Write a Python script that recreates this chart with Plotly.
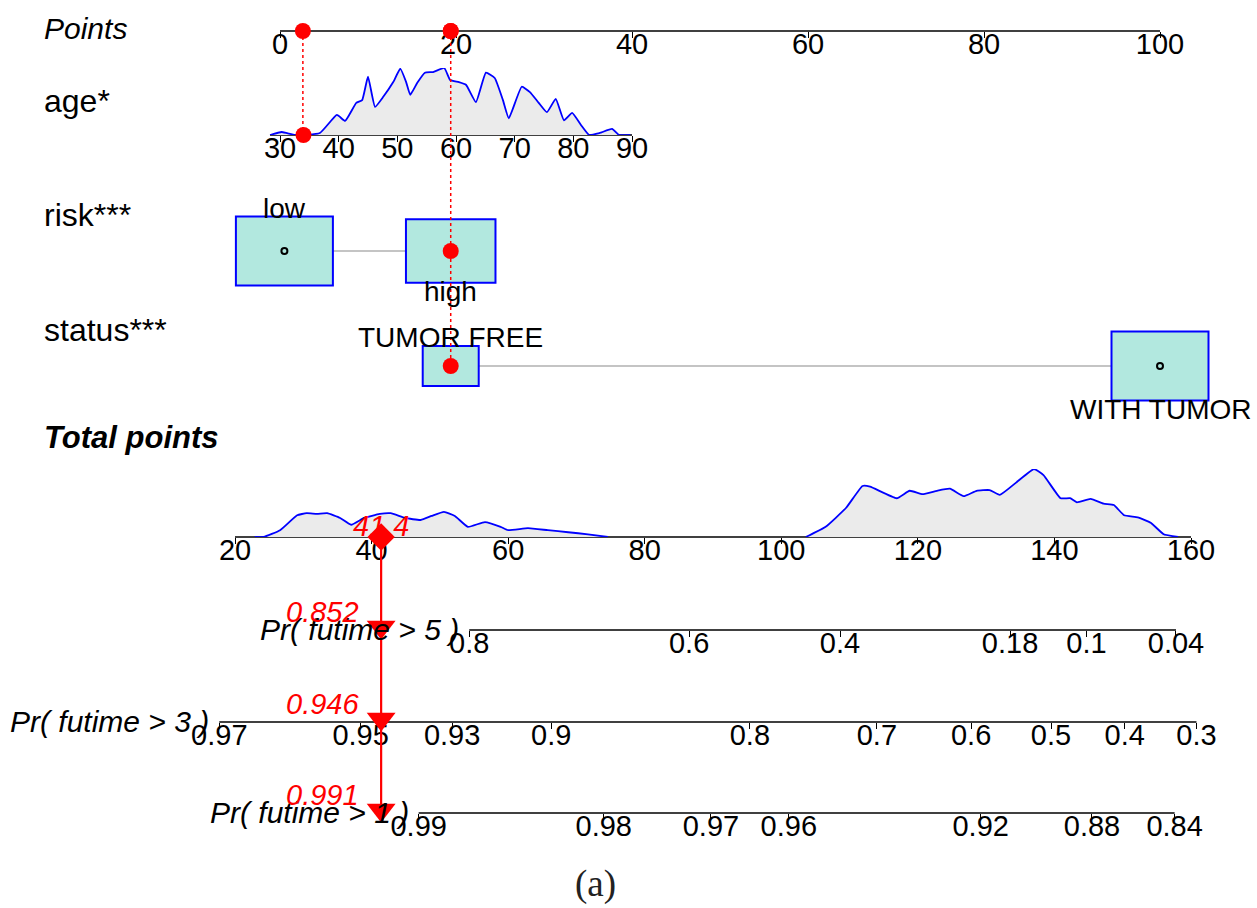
import plotly.graph_objects as go

W, H = 1257, 908
FONT = "Liberation Sans, Arial, Helvetica, sans-serif"

# ---------------- data ----------------
points_ticks = [0, 20, 40, 60, 80, 100]
age_ticks = [30, 40, 50, 60, 70, 80, 90]
total_ticks = [20, 40, 60, 80, 100, 120, 140, 160]

# kernel density of age (relative height)
age_grid = [28.3, 30.3, 32.6, 36.8, 39.7, 41.1, 43.0, 44.0, 45.0, 46.2, 47.6, 49.3,
            50.5, 51.5, 52.2, 53.4, 54.7, 56.1, 58.0, 59.0, 60.5, 61.7, 63.4, 65.1,
            66.6, 68.0, 69.0, 71.2, 72.6, 74.1, 75.5, 77.0, 78.4, 79.8, 81.3, 82.7,
            84.5, 86.6, 87.8, 89.7]
age_density = [0, 0.045, 0, 0.03, 0.30, 0.21, 0.48, 0.52, 0.87, 0.42, 0.57, 0.79,
               0.99, 0.79, 0.60, 0.78, 0.93, 0.94, 1.0, 0.82, 0.79, 0.75, 0.49, 0.93,
               0.85, 0.52, 0.25, 0.72, 0.64, 0.48, 0.34, 0.54, 0.22, 0.33, 0.15, 0,
               0.03, 0.09, 0, 0]

# kernel density of total points (relative height)
total_grid = [22.9, 24.2, 26.6, 29.1, 30.5, 32.0, 33.5, 35.4, 37.0, 38.9, 41.2, 42.8,
              44.9, 47.2, 48.8, 50.6, 52.2, 54.1, 56.6, 58.9, 60.0, 62.9, 65.8, 68.8,
              71.7, 74.6,
              103.6, 106.5, 109.5, 111.9, 113.0, 116.9, 118.8, 120.7, 122.8, 124.7,
              126.7, 128.6, 130.5, 132.0, 134.5, 137.0, 138.4, 140.9, 142.3, 143.3,
              145.3, 147.2, 148.7, 150.2, 152.2, 154.1, 156.0, 158.1]
total_density = [0, 0, 0.10, 0.32, 0.35, 0.34, 0.35, 0.28, 0.18, 0.28, 0.34, 0.35,
                 0.28, 0.25, 0.31, 0.37, 0.31, 0.15, 0.22, 0.15, 0.10, 0.13, 0.10, 0.07,
                 0.04, 0,
                 0, 0.15, 0.43, 0.75, 0.74, 0.57, 0.68, 0.63, 0.68, 0.71,
                 0.60, 0.68, 0.69, 0.62, 0.81, 1.0, 0.91, 0.57, 0.57, 0.51,
                 0.56, 0.49, 0.47, 0.32, 0.29, 0.21, 0.04, 0]

risk_levels = ["low", "high"]
risk_points = [0.5, 19.4]
risk_freq = [0.54, 0.46]

status_levels = ["TUMOR FREE", "WITH TUMOR"]
status_points = [19.4, 100]
status_freq = [0.25, 0.75]

# survival probability scales, positioned on the total-points scale
surv5_labels = ["0.8", "0.6", "0.4", "0.18", "0.1", "0.04"]
surv5_at = [54.3, 86.5, 108.6, 133.5, 144.7, 157.8]
surv3_labels = ["0.97", "0.95", "0.93", "0.9", "0.8", "0.7", "0.6", "0.5", "0.4", "0.3"]
surv3_at = [17.7, 38.4, 51.8, 66.3, 95.4, 114.0, 127.8, 139.5, 150.3, 160.8]
surv1_labels = ["0.99", "0.98", "0.97", "0.96", "0.92", "0.88", "0.84"]
surv1_at = [46.9, 74.0, 89.7, 101.1, 129.2, 145.5, 157.6]

# the patient being scored
patient_age = 34
patient_age_points = 2.6
patient_risk = "high"
patient_status = "TUMOR FREE"
patient_total = 41.4
patient_surv = [0.852, 0.946, 0.991]   # Pr(futime > 5), > 3, > 1

# ---------------- layout constants ----------------
ROW = dict(points=31, age=135, risk=251, status=366, total=537,
           s5=630, s3=722, s1=813)
LABEL_X = 42
TICK_SIZE = 29
LABEL_SIZE = 32
CAT_SIZE = 28
BOX_W, BOX_H = 97, 69
BOX_FILL = "#b2e8df"
GREY_FILL = "#ebebeb"


def span(v0, p0, v1, p1, size=W):
    """Axis range so that value v0 sits at pixel p0 and v1 at pixel p1."""
    k = (p1 - p0) / (v1 - v0)
    return [v0 - p0 / k, v0 + (size - p0) / k]


def paper_y(row):
    return 1 - row / H


points_rng = span(0, 280, 100, 1160)
age_rng = span(30, 280, 90, 632)
total_rng = span(20, 235, 160, 1191)


def scale_axis(rng, row, vals, text):
    return dict(domain=[0, 1], range=rng, anchor="free", position=paper_y(row),
                showline=False, showgrid=False, zeroline=False,
                ticks="outside", ticklen=6, tickwidth=1, tickcolor="black",
                tickmode="array", tickvals=vals, ticktext=text,
                ticklabelstandoff=-19,
                tickfont=dict(family=FONT, size=TICK_SIZE, color="black"),
                fixedrange=True)


def hidden_x(rng):
    return dict(domain=[0, 1], range=rng, visible=False, fixedrange=True,
                anchor="free", position=0)


fig = go.Figure()


def line(xs, ys, xaxis, yaxis="y", color="black", width=1.6, dash="solid"):
    fig.add_trace(go.Scatter(x=xs, y=ys, xaxis=xaxis, yaxis=yaxis,
                             mode="lines", line=dict(color=color, width=width, dash=dash),
                             hoverinfo="skip", showlegend=False))


def dots(xs, ys, xaxis, yaxis, **marker):
    fig.add_trace(go.Scatter(x=xs, y=ys, xaxis=xaxis, yaxis=yaxis, mode="markers",
                             marker=marker, cliponaxis=False,
                             hoverinfo="skip", showlegend=False))


# density curves
fig.add_trace(go.Scatter(x=age_grid, y=age_density, xaxis="x2", yaxis="y2",
                         mode="lines", fill="tozeroy", fillcolor=GREY_FILL,
                         line=dict(color="blue", width=1.8, shape="spline", smoothing=0.4),
                         hoverinfo="skip", showlegend=False))

split = max(range(1, len(total_grid)), key=lambda i: total_grid[i] - total_grid[i - 1])
for seg in (slice(0, split), slice(split, None)):
    fig.add_trace(go.Scatter(x=total_grid[seg], y=total_density[seg], xaxis="x3", yaxis="y3",
                             mode="lines", fill="tozeroy", fillcolor=GREY_FILL,
                             line=dict(color="blue", width=1.8, shape="spline", smoothing=0.4),
                             hoverinfo="skip", showlegend=False))

# scale lines
line([points_ticks[0], points_ticks[-1]], [ROW["points"]] * 2, "x")
line([age_grid[0], age_ticks[-1]], [ROW["age"]] * 2, "x2")
line([total_ticks[0], total_ticks[-1]], [ROW["total"]] * 2, "x3")
line([surv5_at[0], surv5_at[-1]], [ROW["s5"]] * 2, "x4")
line([surv3_at[0], surv3_at[-1]], [ROW["s3"]] * 2, "x5")
line([surv1_at[0], surv1_at[-1]], [ROW["s1"]] * 2, "x6")

# categorical variables: connector + frequency-scaled boxes
shapes = []
for levels, pts, freq, row in ((risk_levels, risk_points, risk_freq, ROW["risk"]),
                               (status_levels, status_points, status_freq, ROW["status"])):
    shapes.append(dict(type="line", xref="x", yref="y", x0=min(pts), x1=max(pts),
                       y0=row, y1=row, line=dict(color="#c4c4c4", width=2), layer="below"))
    fmax = max(freq)
    for p, f in zip(pts, freq):
        s = (f / fmax) ** 0.5
        w, h = BOX_W * s, BOX_H * s
        shapes.append(dict(type="rect", xref="x", yref="y",
                           xsizemode="pixel", xanchor=p, x0=-w / 2, x1=w / 2,
                           ysizemode="pixel", yanchor=row, y0=-h / 2, y1=h / 2,
                           fillcolor=BOX_FILL, line=dict(color="blue", width=2),
                           layer="below"))

# unselected category markers
unsel_x, unsel_y = [], []
for levels, pts, row, chosen in ((risk_levels, risk_points, ROW["risk"], patient_risk),
                                 (status_levels, status_points, ROW["status"], patient_status)):
    for lv, p in zip(levels, pts):
        if lv != chosen:
            unsel_x.append(p)
            unsel_y.append(row)
dots(unsel_x, unsel_y, "x", "y", symbol="circle-open", size=6, color="black",
     line=dict(width=2))

risk_pts = risk_points[risk_levels.index(patient_risk)]
status_pts = status_points[status_levels.index(patient_status)]

# ---- patient overlay (top-most axes: x7 points, x8 age, x9 total; y4 rows) ----
line([patient_age_points] * 2, [ROW["points"], ROW["age"]], "x7", "y4",
     color="red", width=1.5, dash="dot")
line([risk_pts] * 2, [ROW["points"], ROW["status"]], "x7", "y4",
     color="red", width=1.5, dash="dot")
dots([patient_age_points, risk_pts, status_pts, risk_pts, status_pts],
     [ROW["points"]] * 3 + [ROW["risk"], ROW["status"]], "x7", "y4", color="red", size=16)
dots([patient_age], [ROW["age"]], "x8", "y4", color="red", size=16)

surv_rows = [ROW["s5"], ROW["s3"], ROW["s1"]]
line([patient_total] * 2, [ROW["total"], ROW["s1"] + 9], "x9", "y4", color="red", width=2.2)
dots([patient_total] * 3, [r - 3 for r in surv_rows], "x9", "y4",
     symbol="triangle-down", size=25, color="red")
dots([patient_total], [ROW["total"]], "x9", "y4", symbol="diamond", size=21, color="red")

ann = []


def label(text, x, y, xref="paper", yref="paper", size=LABEL_SIZE, color="black",
          xanchor="left", xshift=0, family=FONT):
    ann.append(dict(text=text, x=x, y=y, xref=xref, yref=yref, showarrow=False,
                    xanchor=xanchor, yanchor="middle", xshift=xshift,
                    font=dict(family=family, size=size, color=color)))


# row titles
label("<i>Points</i>", LABEL_X / W, paper_y(28), size=30)
label("age*", LABEL_X / W, paper_y(101))
label("risk***", LABEL_X / W, paper_y(215))
label("status***", LABEL_X / W, paper_y(330))
label("<b><i>Total points</i></b>", LABEL_X / W, paper_y(437), size=31)

# category names
label(risk_levels[0], risk_points[0], ROW["risk"] - 43, "x", "y", size=CAT_SIZE, xanchor="center")
label(risk_levels[1], risk_points[1], ROW["risk"] + 40, "x", "y", size=CAT_SIZE, xanchor="center")
label(status_levels[0], status_points[0], ROW["status"] - 29, "x", "y", size=CAT_SIZE,
      xanchor="center")
label(status_levels[1], status_points[1], ROW["status"] + 43, "x", "y", size=CAT_SIZE,
      xanchor="center")

# probability scale names
for txt, at, row, ax in (("Pr( futime > 5 )", surv5_at, ROW["s5"], "x4"),
                         ("Pr( futime > 3 )", surv3_at, ROW["s3"], "x5"),
                         ("Pr( futime > 1 )", surv1_at, ROW["s1"], "x6")):
    label("<i>" + txt + "</i>", at[0], row - 1, ax, "y", size=30, xanchor="right", xshift=-8)

# patient values
label("<i>%g</i>" % patient_total, patient_total, ROW["total"] - 11, "x9", "y4",
      size=29, color="red", xanchor="center")
for p, row in zip(patient_surv, surv_rows):
    label("<i>%g</i>" % p, patient_total, row - 18, "x9", "y4", size=29, color="red",
          xanchor="right", xshift=-20)

# panel caption
label("(a)", 595 / W, paper_y(884), size=37, color="#222222", xanchor="center",
      family="Liberation Serif, Times New Roman, serif")

hidden = dict(visible=False, fixedrange=True)
fig.update_layout(
    width=W, height=H, margin=dict(l=0, r=0, t=0, b=0),
    paper_bgcolor="white", plot_bgcolor="rgba(0,0,0,0)",
    showlegend=False,
    xaxis=scale_axis(points_rng, ROW["points"], points_ticks, [str(v) for v in points_ticks]),
    xaxis2=scale_axis(age_rng, ROW["age"], age_ticks, [str(v) for v in age_ticks]),
    xaxis3=scale_axis(total_rng, ROW["total"], total_ticks, [str(v) for v in total_ticks]),
    xaxis4=scale_axis(total_rng, ROW["s5"], surv5_at, surv5_labels),
    xaxis5=scale_axis(total_rng, ROW["s3"], surv3_at, surv3_labels),
    xaxis6=scale_axis(total_rng, ROW["s1"], surv1_at, surv1_labels),
    xaxis7=hidden_x(points_rng),
    xaxis8=hidden_x(age_rng),
    xaxis9=hidden_x(total_rng),
    yaxis=dict(domain=[0, 1], range=[H, 0], **hidden),
    yaxis2=dict(domain=[paper_y(ROW["age"]), paper_y(ROW["age"] - 67)], range=[0, 1],
                anchor="free", position=0, **hidden),
    yaxis3=dict(domain=[paper_y(ROW["total"]), paper_y(ROW["total"] - 68)], range=[0, 1],
                anchor="free", position=0, **hidden),
    yaxis4=dict(domain=[0, 1], range=[H, 0], anchor="free", position=0, **hidden),
    shapes=shapes, annotations=ann,
)

fig.write_html("out.html")
